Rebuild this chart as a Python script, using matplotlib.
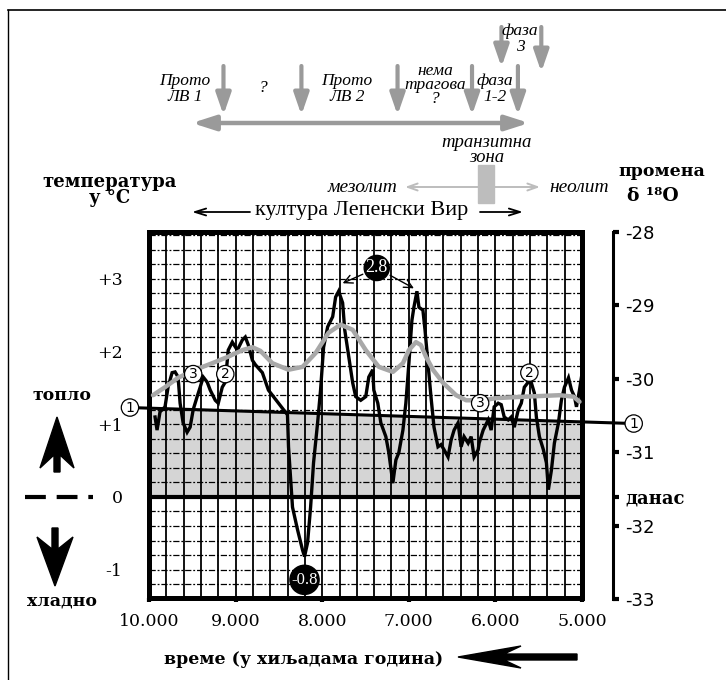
import matplotlib
matplotlib.use("Agg")
import matplotlib.pyplot as plt
import numpy as np
from matplotlib.patches import Polygon, Rectangle
from matplotlib.transforms import blended_transform_factory

# temperature record, deviation in degrees C (years before present)
temp_years = [9930, 9907, 9873, 9815, 9780, 9733, 9699, 9664, 9641, 9606,
              9560, 9525, 9490, 9444, 9409, 9374, 9328, 9293, 9235, 9200,
              9154, 9119, 9085, 9038, 8980, 8922, 8888, 8853, 8806, 8772,
              8691, 8621, 8563, 8505, 8447, 8401, 8389, 8366, 8343, 8285,
              8227, 8204, 8169, 8134, 8100, 8053, 8019, 7984, 7937, 7879,
              7845, 7810, 7787, 7764, 7740, 7694, 7648, 7613, 7555, 7497,
              7462, 7416, 7404, 7358, 7323, 7265, 7231, 7184, 7149, 7115,
              7068, 7034, 6999, 6964, 6941, 6906, 6883, 6837, 6813, 6779,
              6744, 6709, 6663, 6628, 6593, 6547, 6512, 6477, 6431, 6396,
              6362, 6315, 6280, 6246, 6199, 6188, 6141, 6083, 6049, 6014,
              5968, 5933, 5898, 5852, 5817, 5782, 5736, 5701, 5666, 5620,
              5585, 5550, 5527, 5492, 5446, 5411, 5388, 5353, 5319, 5272,
              5238, 5203, 5156, 5121, 5087, 5064, 5029, 5006]
temp_values = [1.10, 0.92, 1.17, 1.24, 1.51, 1.71, 1.72, 1.65, 1.29, 1.02,
               0.89, 0.96, 1.20, 1.38, 1.51, 1.65, 1.58, 1.47, 1.33, 1.29,
               1.51, 1.58, 2.02, 2.13, 2.02, 2.16, 2.20, 2.09, 1.88, 1.82,
               1.71, 1.47, 1.38, 1.29, 1.20, 1.13, 0.69, 0.28, -0.14, -0.45,
               -0.73, -0.82, -0.63, -0.14, 0.47, 1.02, 1.47, 2.06, 2.34, 2.48,
               2.75, 2.83, 2.75, 2.67, 2.30, 1.93, 1.57, 1.38, 1.33, 1.38,
               1.65, 1.75, 1.47, 1.29, 1.02, 0.83, 0.61, 0.19, 0.51, 0.61,
               0.92, 1.29, 1.84, 2.43, 2.61, 2.83, 2.61, 2.57, 2.30, 1.84,
               1.38, 0.96, 0.69, 0.72, 0.65, 0.55, 0.78, 0.92, 1.02, 0.69,
               0.83, 0.74, 0.83, 0.55, 0.65, 0.74, 0.92, 1.06, 0.92, 1.24,
               1.29, 1.27, 1.10, 1.06, 1.10, 0.96, 1.20, 1.29, 1.51, 1.58,
               1.57, 1.43, 1.10, 0.83, 0.65, 0.47, 0.10, 0.37, 0.74, 1.02,
               1.33, 1.51, 1.64, 1.47, 1.38, 1.24, 1.47, 1.65]

# smoothed trend (grey curve)
trend_years = [9954, 9815, 9664, 9467, 9270, 9085, 8922, 8806, 8714, 8575,
               8389, 8227, 8076, 7926, 7787, 7648, 7497, 7346, 7184, 7068,
               6999, 6918, 6860, 6802, 6721, 6605, 6454, 6338, 6141, 5991,
               5643, 5261, 5099, 5029]
trend_values = [1.40, 1.51, 1.64, 1.75, 1.84, 1.93, 2.02, 2.06, 2.01, 1.84,
                1.75, 1.79, 1.98, 2.26, 2.37, 2.30, 2.02, 1.79, 1.72, 1.84,
                2.02, 2.13, 2.09, 1.93, 1.75, 1.57, 1.40, 1.33, 1.33, 1.36,
                1.38, 1.40, 1.38, 1.31]

# level line (1)
level_years = [10220, 4403]
level_values = [1.23, 1.01]

# circled markers
mark_years = [9490, 9119, 6176, 5608]
mark_values = [1.69, 1.69, 1.29, 1.71]
mark_text = ['3', '2', '3', '2']

# extreme value callouts
peak_label_pos = (7370, 3.15)
peak_targets = [(7764, 2.94), (6941, 2.87)]
min_label_pos = (8204, -1.14)

# period boundaries (years) for the top arrows
phase_years = [9140, 8240, 7130, 6270, 5740]
phase3_years = [5930, 5470]

x_ticks = [10000, 9000, 8000, 7000, 6000, 5000]
x_labels = ['10.000', '9.000', '8.000', '7.000', '6.000', '5.000']
y_ticks = [3, 2, 1, 0, -1]
y_labels = ['+3', '+2', '+1', '0', '-1']
d18o_ticks = [-28, -29, -30, -31, -31.61, -32, -33]
d18o_labels = ['-28', '-29', '-30', '-31', 'данас', '-32', '-33']

SERIF = 'Liberation Serif'
WIDE = 'DejaVu Serif'
GREY = '#9a9a9a'

W, H = 726, 680
fig = plt.figure(figsize=(W / 100, H / 100), dpi=100)

# overlay in pixel coordinates for the surrounding labels
ov = fig.add_axes([0, 0, 1, 1], zorder=-1)
ov.set_xlim(0, W)
ov.set_ylim(H, 0)
ov.axis('off')

ax = fig.add_axes([149 / W, 1 - 598 / H, 433 / W, 366 / H])
ax.set_xlim(10000, 5000)
ax.set_ylim(-1.39, 3.645)

# grid
for yr in np.arange(9800, 5000, -200):
    ax.axvline(yr, color='black', lw=1.3, zorder=1)
for t in np.arange(-1.2, 3.7, 0.2):
    if abs(t) > 1e-6:
        ax.axhline(t, color='black', lw=0.9, ls=(0, (5, 1.5, 1.5, 1.5)), zorder=1)
ax.axhline(0, color='black', lw=3, zorder=2)

# grey band between 0 and the level line
fill_x = np.array([10000, 5000])
fill_top = np.interp(fill_x, level_years[::-1], level_values[::-1])
ax.fill_between(fill_x, 0, fill_top, color='#d5d5d5', lw=0, zorder=0.5)

ax.plot(temp_years, temp_values, color='black', lw=2.4, zorder=3, solid_joinstyle='miter')
ax.plot(trend_years, trend_values, color='#a8a8a8', lw=3.2, zorder=4,
        solid_capstyle='round', solid_joinstyle='round')
ax.plot(level_years, level_values, color='black', lw=2.2, zorder=5, clip_on=False)

circ = dict(boxstyle='circle,pad=0.12', fc='white', ec='black', lw=0.9)
for yr, v, s in zip(mark_years, mark_values, mark_text):
    ax.text(yr, v, s, ha='center', va='center', fontsize=10, family='DejaVu Sans',
            bbox=circ, zorder=6)
for yr, v in zip(level_years, level_values):
    ax.text(yr, v, '1', ha='center', va='center', fontsize=10, family='DejaVu Sans',
            bbox=circ, zorder=6, clip_on=False)

blk = dict(boxstyle='circle,pad=0.08', fc='black', ec='black')
ax.text(*peak_label_pos, '2.8', ha='center', va='center', fontsize=13, family=SERIF,
        color='white', bbox=blk, zorder=7)
for tgt in peak_targets:
    ax.annotate('', xy=tgt, xytext=peak_label_pos, zorder=7,
                arrowprops=dict(arrowstyle='->,head_length=0.6,head_width=0.3',
                                color='black', lw=1, shrinkA=11, shrinkB=0))
ax.text(*min_label_pos, '-0.8', ha='center', va='center', fontsize=12, family=SERIF,
        color='white', bbox=blk, zorder=7)

for s in ax.spines.values():
    s.set_linewidth(3.6)
ax.set_xticks(x_ticks)
ax.set_xticklabels(x_labels, family=WIDE, fontsize=12.5)
ax.set_yticks(y_ticks)
ax.set_yticklabels(y_labels, family=WIDE, fontsize=12.5)
ax.tick_params(axis='x', length=3, width=3, pad=8)
ax.tick_params(axis='y', length=0, pad=19)

# right delta 18O axis
ax2 = fig.add_axes([612 / W, 1 - 599 / H, 1 / W, 367 / H])
ax2.set_ylim(-33, -28)
ax2.set_xticks([])
for k in ['left', 'top', 'bottom']:
    ax2.spines[k].set_visible(False)
ax2.spines['right'].set_linewidth(2.2)
ax2.yaxis.tick_right()
ax2.set_yticks(d18o_ticks)
ax2.set_yticklabels(d18o_labels, family='DejaVu Sans', fontsize=13)
ax2.tick_params(axis='y', direction='out', length=4, width=3, pad=5)
ax2.get_yticklabels()[4].set_fontproperties({'family': WIDE, 'weight': 'bold', 'size': 13})

# ---- surrounding labels (pixel coordinates) ----
ov.plot([8, 8], [10, H], color='black', lw=1)
ov.plot([8, W], [10, 10], color='black', lw=1.2)

bt = blended_transform_factory(ax.transData, ov.transData)
head = '-|>,head_width=0.45,head_length=1.3'
for yr in phase_years:
    ov.annotate('', xy=(yr, 115), xytext=(yr, 66), xycoords=bt, textcoords=bt,
                arrowprops=dict(arrowstyle=head, color=GREY, lw=3, shrinkA=0, shrinkB=0))
for yr, y1 in zip(phase3_years, [67, 72]):
    ov.annotate('', xy=(yr, y1), xytext=(yr, 27), xycoords=bt, textcoords=bt,
                arrowprops=dict(arrowstyle=head, color=GREY, lw=3, shrinkA=0, shrinkB=0))
ov.annotate('', xy=(192, 123), xytext=(529, 123),
            arrowprops=dict(arrowstyle='<|-|>,head_width=0.45,head_length=1.4', color=GREY,
                            lw=3.2, shrinkA=0, shrinkB=0))

it = dict(family=SERIF, style='italic', fontsize=12.5, ha='center', va='center')
ov.text(185, 89, 'Прото\nЛВ 1', linespacing=1.0, **it)
ov.text(263, 88, '?', **it)
ov.text(347, 89, 'Прото\nЛВ 2', linespacing=1.0, **it)
ov.text(435, 85, 'нема\nтрагова\n?', linespacing=0.8, **it)
ov.text(495, 89, 'фаза\n1-2', linespacing=0.95, **it)
ov.text(520, 39, 'фаза\n3', linespacing=0.95, **it)
ov.text(487, 150, 'транзитна\nзона', linespacing=0.9, fontsize=13.5,
        **{k: v for k, v in it.items() if k != 'fontsize'})
ov.text(397, 187, 'мезолит', family=SERIF, style='italic', fontsize=14, ha='right', va='center')
ov.text(549, 187, 'неолит', family=SERIF, style='italic', fontsize=14, ha='left', va='center')
ov.annotate('', xy=(405, 187), xytext=(540, 187),
            arrowprops=dict(arrowstyle='<->,head_width=0.25,head_length=0.7', color='#bdbdbd',
                            lw=1.4, shrinkA=0, shrinkB=0))
ov.add_patch(Rectangle((478, 165), 16, 38, color='#bdbdbd', zorder=3))

bold = dict(family=WIDE, weight='bold', fontsize=12.5, ha='center', va='center')
ov.text(110, 190, 'температура\nу °C', linespacing=0.9, family=WIDE, weight='bold',
        fontsize=13, ha='center', va='center')
ov.text(662, 172, 'промена', **bold)
ov.text(653, 196, 'δ ¹⁸O', family=WIDE, weight='bold', fontsize=13.5, ha='center', va='center')
ov.text(62, 396, 'топло', **bold)
ov.text(62, 601, 'хладно', **bold)
ov.text(304, 659, 'време (у хиљадама година)', **bold)

ov.text(362, 211, 'култура Лепенски Вир', family=SERIF, fontsize=16, ha='center', va='center')
ov.annotate('', xy=(192, 212), xytext=(250, 212),
            arrowprops=dict(arrowstyle='->,head_width=0.25,head_length=0.8', color='black',
                            lw=1.3, shrinkA=0, shrinkB=0))
ov.annotate('', xy=(523, 212), xytext=(480, 212),
            arrowprops=dict(arrowstyle='->,head_width=0.25,head_length=0.8', color='black',
                            lw=1.3, shrinkA=0, shrinkB=0))

# warm / cold arrows and zero dashes
ov.add_patch(Polygon([(57, 417), (74, 468), (60, 455), (60, 472), (54, 472), (54, 455), (40, 468)],
                     closed=True, color='black'))
ov.add_patch(Polygon([(55, 586), (73, 537), (58, 549), (58, 528), (52, 528), (52, 549), (37, 537)],
                     closed=True, color='black'))
ov.plot([25, 93], [497, 497], color='black', lw=3, ls=(0, (5, 2.6)))
ov.add_patch(Polygon([(458, 657), (521, 646), (504, 654), (577, 654), (577, 660), (504, 660), (521, 668)],
                     closed=True, color='black'))

fig.savefig('out.png', dpi=100)
